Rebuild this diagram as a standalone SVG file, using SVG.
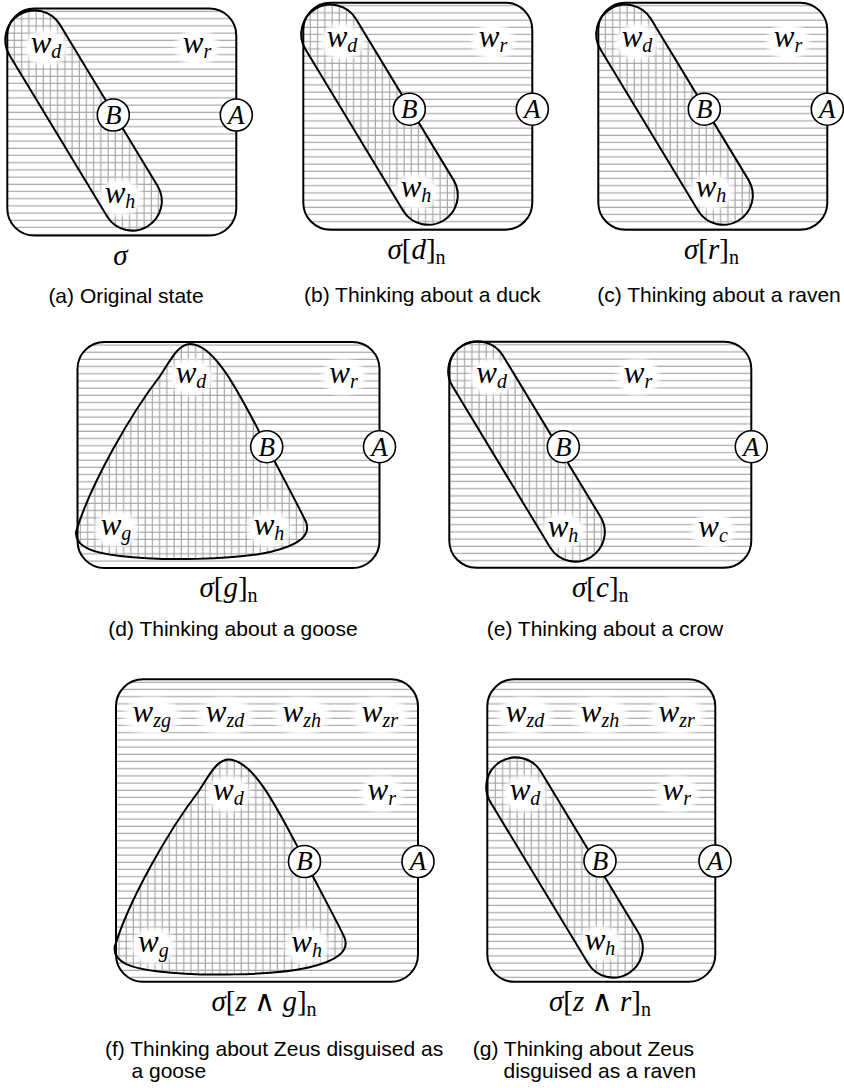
<svg xmlns="http://www.w3.org/2000/svg" width="844" height="1088" viewBox="0 0 844 1088">
<defs>
<style>
.bg{fill:url(#hh)}
.in{fill:url(#vv)}
.ol{fill:none;stroke:#000;stroke-width:2}
.halo{fill:url(#hg)}
.pt{fill:#fff;stroke:#000;stroke-width:1.6}
.lb{font-family:"Liberation Serif",serif;font-style:italic;font-size:31px;text-anchor:middle;fill:#000}
.sb{font-size:20px}
.pl{font-family:"Liberation Serif",serif;font-style:italic;font-size:27px;text-anchor:middle;fill:#000}
.sg{font-family:"Liberation Serif","DejaVu Serif",serif;font-size:29px;text-anchor:middle;fill:#000}
.it{font-style:italic}
.sn{font-size:20px}
.cap{font-family:"Liberation Sans",Arial,sans-serif;font-size:21px;fill:#000}
.mid{text-anchor:middle}
</style>
<pattern id="hh" patternUnits="userSpaceOnUse" width="20" height="7.2"><line x1="0" y1="3" x2="20" y2="3" stroke="#a8a8a8" stroke-width="1.2"/></pattern>
<pattern id="vv" patternUnits="userSpaceOnUse" width="7.2" height="20"><line x1="3" y1="0" x2="3" y2="20" stroke="#a8a8a8" stroke-width="1.2"/></pattern>
<radialGradient id="hg"><stop offset="0" stop-color="#fff"/><stop offset="0.7" stop-color="#fff"/><stop offset="1" stop-color="#fff" stop-opacity="0"/></radialGradient>
<path id="stad" d="M -23.8,-96.24 L 74.26,65.68 A 29.5 29.5 0 0 1 23.8,96.24 L -74.26,-65.68 A 29.5 29.5 0 0 1 -23.8,-96.24 Z"/>
<path id="tri" d="M 112.5,2 C 137.5,2 162.5,53 184.5,95 C 202.5,130 220.5,163 228.5,180 C 233.5,193 222.5,203 192.5,210 C 157.5,218 82.5,219 42.5,214 C 17.5,211 -2.5,206 -1.5,190 C 12.5,143 52.5,73 82.5,34 C 92.5,19 100.5,2 112.5,2 Z"/>
</defs>
<rect width="844" height="1088" fill="#fff"/>

<g id="panel-a" transform="translate(7.3,8.5)">
<rect class="bg" width="229" height="227" rx="27"/>
<use href="#stad" class="in" x="76.2" y="112"/>
<ellipse class="halo" cx="38.7" cy="39" rx="25" ry="21"/>
<ellipse class="halo" cx="189.7" cy="39" rx="25" ry="21"/>
<ellipse class="halo" cx="112.7" cy="189" rx="25" ry="21"/>
<use href="#stad" class="ol" x="76.2" y="112"/>
<rect class="ol" width="229" height="227" rx="27"/>
<circle class="pt" cx="106" cy="106.5" r="16"/>
<circle class="pt" cx="229" cy="106.5" r="16"/>
<text class="pl" x="106" y="115.5">B</text>
<text class="pl" x="229" y="115.5">A</text>
<text class="lb" x="38.7" y="44.8">w<tspan class="sb" dy="5">d</tspan></text>
<text class="lb" x="189.7" y="44.8">w<tspan class="sb" dy="5">r</tspan></text>
<text class="lb" x="112.7" y="194.5">w<tspan class="sb" dy="5">h</tspan></text>
<text class="sg" x="113.2" y="256.5"><tspan class="it">σ</tspan></text>
<text class="cap mid" x="118.7" y="294">(a) Original state</text>
</g>

<g id="panel-b" transform="translate(303.3,2.7)">
<rect class="bg" width="229" height="227" rx="27"/>
<use href="#stad" class="in" x="76.2" y="112"/>
<ellipse class="halo" cx="38.7" cy="39" rx="25" ry="21"/>
<ellipse class="halo" cx="189.7" cy="39" rx="25" ry="21"/>
<ellipse class="halo" cx="112.7" cy="189" rx="25" ry="21"/>
<use href="#stad" class="ol" x="76.2" y="112"/>
<rect class="ol" width="229" height="227" rx="27"/>
<circle class="pt" cx="106" cy="106.5" r="16"/>
<circle class="pt" cx="229" cy="106.5" r="16"/>
<text class="pl" x="106" y="115.5">B</text>
<text class="pl" x="229" y="115.5">A</text>
<text class="lb" x="38.7" y="44.8">w<tspan class="sb" dy="5">d</tspan></text>
<text class="lb" x="189.7" y="44.8">w<tspan class="sb" dy="5">r</tspan></text>
<text class="lb" x="112.7" y="194.5">w<tspan class="sb" dy="5">h</tspan></text>
<text class="sg" x="113.2" y="256"><tspan class="it">σ</tspan>[<tspan class="it">d</tspan>]<tspan class="sn" dy="5">n</tspan></text>
<text class="cap mid" x="119" y="299.8">(b) Thinking about a duck</text>
</g>

<g id="panel-c" transform="translate(598.3,2.7)">
<rect class="bg" width="229" height="227" rx="27"/>
<use href="#stad" class="in" x="76.2" y="112"/>
<ellipse class="halo" cx="38.7" cy="39" rx="25" ry="21"/>
<ellipse class="halo" cx="189.7" cy="39" rx="25" ry="21"/>
<ellipse class="halo" cx="112.7" cy="189" rx="25" ry="21"/>
<use href="#stad" class="ol" x="76.2" y="112"/>
<rect class="ol" width="229" height="227" rx="27"/>
<circle class="pt" cx="106" cy="106.5" r="16"/>
<circle class="pt" cx="229" cy="106.5" r="16"/>
<text class="pl" x="106" y="115.5">B</text>
<text class="pl" x="229" y="115.5">A</text>
<text class="lb" x="38.7" y="44.8">w<tspan class="sb" dy="5">d</tspan></text>
<text class="lb" x="189.7" y="44.8">w<tspan class="sb" dy="5">r</tspan></text>
<text class="lb" x="112.7" y="194.5">w<tspan class="sb" dy="5">h</tspan></text>
<text class="sg" x="113.2" y="256"><tspan class="it">σ</tspan>[<tspan class="it">r</tspan>]<tspan class="sn" dy="5">n</tspan></text>
<text class="cap mid" x="120.7" y="299.8">(c) Thinking about a raven</text>
</g>

<g id="panel-d" transform="translate(77.5,342)">
<rect class="bg" width="302" height="226" rx="27"/>
<use href="#tri" class="in"/>
<ellipse class="halo" cx="113.5" cy="35" rx="25" ry="21"/>
<ellipse class="halo" cx="266" cy="35" rx="25" ry="21"/>
<ellipse class="halo" cx="38.5" cy="187" rx="25" ry="21"/>
<ellipse class="halo" cx="191.5" cy="187" rx="25" ry="21"/>
<use href="#tri" class="ol"/>
<rect class="ol" width="302" height="226" rx="27"/>
<circle class="pt" cx="189.2" cy="104.7" r="16"/>
<circle class="pt" cx="302" cy="104.7" r="16"/>
<text class="pl" x="189.2" y="113.7">B</text>
<text class="pl" x="302" y="113.7">A</text>
<text class="lb" x="113.5" y="41">w<tspan class="sb" dy="5">d</tspan></text>
<text class="lb" x="266" y="41">w<tspan class="sb" dy="5">r</tspan></text>
<text class="lb" x="38.5" y="193">w<tspan class="sb" dy="5">g</tspan></text>
<text class="lb" x="191.5" y="193">w<tspan class="sb" dy="5">h</tspan></text>
<text class="sg" x="151" y="255"><tspan class="it">σ</tspan>[<tspan class="it">g</tspan>]<tspan class="sn" dy="5">n</tspan></text>
<text class="cap mid" x="155.5" y="294">(d) Thinking about a goose</text>
</g>

<g id="panel-e" transform="translate(449.3,341.7)">
<rect class="bg" width="302" height="226" rx="27"/>
<use href="#stad" class="in" x="77.2" y="109.8"/>
<ellipse class="halo" cx="42.4" cy="35.3" rx="25" ry="21"/>
<ellipse class="halo" cx="188.7" cy="35.3" rx="25" ry="21"/>
<ellipse class="halo" cx="113.7" cy="189" rx="25" ry="21"/>
<ellipse class="halo" cx="263.7" cy="189" rx="25" ry="21"/>
<use href="#stad" class="ol" x="77.2" y="109.8"/>
<rect class="ol" width="302" height="226" rx="27"/>
<circle class="pt" cx="114" cy="105" r="16"/>
<circle class="pt" cx="302" cy="105" r="16"/>
<text class="pl" x="114" y="114">B</text>
<text class="pl" x="302" y="114">A</text>
<text class="lb" x="42.4" y="41.3">w<tspan class="sb" dy="5">d</tspan></text>
<text class="lb" x="188.7" y="41.3">w<tspan class="sb" dy="5">r</tspan></text>
<text class="lb" x="113.7" y="195">w<tspan class="sb" dy="5">h</tspan></text>
<text class="lb" x="263.7" y="195">w<tspan class="sb" dy="5">c</tspan></text>
<text class="sg" x="151" y="255"><tspan class="it">σ</tspan>[<tspan class="it">c</tspan>]<tspan class="sn" dy="5">n</tspan></text>
<text class="cap mid" x="155.7" y="294.3">(e) Thinking about a crow</text>
</g>

<g id="panel-f" transform="translate(116,679.3)">
<rect class="bg" width="302" height="302.5" rx="27"/>
<use href="#tri" class="in" y="78.2"/>
<ellipse class="halo" cx="35.7" cy="36.7" rx="32" ry="22"/>
<ellipse class="halo" cx="109" cy="36.7" rx="32" ry="22"/>
<ellipse class="halo" cx="185.7" cy="36.7" rx="32" ry="22"/>
<ellipse class="halo" cx="264" cy="36.7" rx="32" ry="22"/>
<ellipse class="halo" cx="112.3" cy="114.7" rx="25" ry="21"/>
<ellipse class="halo" cx="265.7" cy="114.7" rx="25" ry="21"/>
<ellipse class="halo" cx="37.3" cy="266.7" rx="25" ry="21"/>
<ellipse class="halo" cx="190.7" cy="266.7" rx="25" ry="21"/>
<use href="#tri" class="ol" y="78.2"/>
<rect class="ol" width="302" height="302.5" rx="27"/>
<circle class="pt" cx="188.5" cy="182.2" r="16"/>
<circle class="pt" cx="302" cy="182.2" r="16"/>
<text class="pl" x="188.5" y="191.2">B</text>
<text class="pl" x="302" y="191.2">A</text>
<text class="lb" x="35.7" y="42.7">w<tspan class="sb" dy="5">zg</tspan></text>
<text class="lb" x="109" y="42.7">w<tspan class="sb" dy="5">zd</tspan></text>
<text class="lb" x="185.7" y="42.7">w<tspan class="sb" dy="5">zh</tspan></text>
<text class="lb" x="264" y="42.7">w<tspan class="sb" dy="5">zr</tspan></text>
<text class="lb" x="112.3" y="120.7">w<tspan class="sb" dy="5">d</tspan></text>
<text class="lb" x="265.7" y="120.7">w<tspan class="sb" dy="5">r</tspan></text>
<text class="lb" x="37.3" y="272.7">w<tspan class="sb" dy="5">g</tspan></text>
<text class="lb" x="190.7" y="272.7">w<tspan class="sb" dy="5">h</tspan></text>
<text class="sg" x="148" y="331.5"><tspan class="it">σ</tspan>[<tspan class="it">z</tspan> ∧ <tspan class="it">g</tspan>]<tspan class="sn" dy="5">n</tspan></text>
<text class="cap" x="-11" y="376.7">(f) Thinking about Zeus disguised as</text>
<text class="cap" x="15.5" y="398.7">a goose</text>
</g>

<g id="panel-g" transform="translate(487.3,679.3)">
<rect class="bg" width="228" height="302.5" rx="27"/>
<use href="#stad" class="in" x="77.2" y="188.2"/>
<ellipse class="halo" cx="37.7" cy="36.7" rx="32" ry="22"/>
<ellipse class="halo" cx="112.7" cy="36.7" rx="32" ry="22"/>
<ellipse class="halo" cx="189.4" cy="36.7" rx="32" ry="22"/>
<ellipse class="halo" cx="37.7" cy="114.7" rx="25" ry="21"/>
<ellipse class="halo" cx="189.4" cy="114.7" rx="25" ry="21"/>
<ellipse class="halo" cx="112.7" cy="264.7" rx="25" ry="21"/>
<use href="#stad" class="ol" x="77.2" y="188.2"/>
<rect class="ol" width="228" height="302.5" rx="27"/>
<circle class="pt" cx="112.7" cy="181.7" r="16"/>
<circle class="pt" cx="227.7" cy="181.7" r="16"/>
<text class="pl" x="112.7" y="190.7">B</text>
<text class="pl" x="227.7" y="190.7">A</text>
<text class="lb" x="37.7" y="42.7">w<tspan class="sb" dy="5">zd</tspan></text>
<text class="lb" x="112.7" y="42.7">w<tspan class="sb" dy="5">zh</tspan></text>
<text class="lb" x="189.4" y="42.7">w<tspan class="sb" dy="5">zr</tspan></text>
<text class="lb" x="37.7" y="120.7">w<tspan class="sb" dy="5">d</tspan></text>
<text class="lb" x="189.4" y="120.7">w<tspan class="sb" dy="5">r</tspan></text>
<text class="lb" x="112.7" y="270.7">w<tspan class="sb" dy="5">h</tspan></text>
<text class="sg" x="112.7" y="331.5"><tspan class="it">σ</tspan>[<tspan class="it">z</tspan> ∧ <tspan class="it">r</tspan>]<tspan class="sn" dy="5">n</tspan></text>
<text class="cap" x="-14.6" y="376.7">(g) Thinking about Zeus</text>
<text class="cap" x="16.2" y="398.7">disguised as a raven</text>
</g>
</svg>
